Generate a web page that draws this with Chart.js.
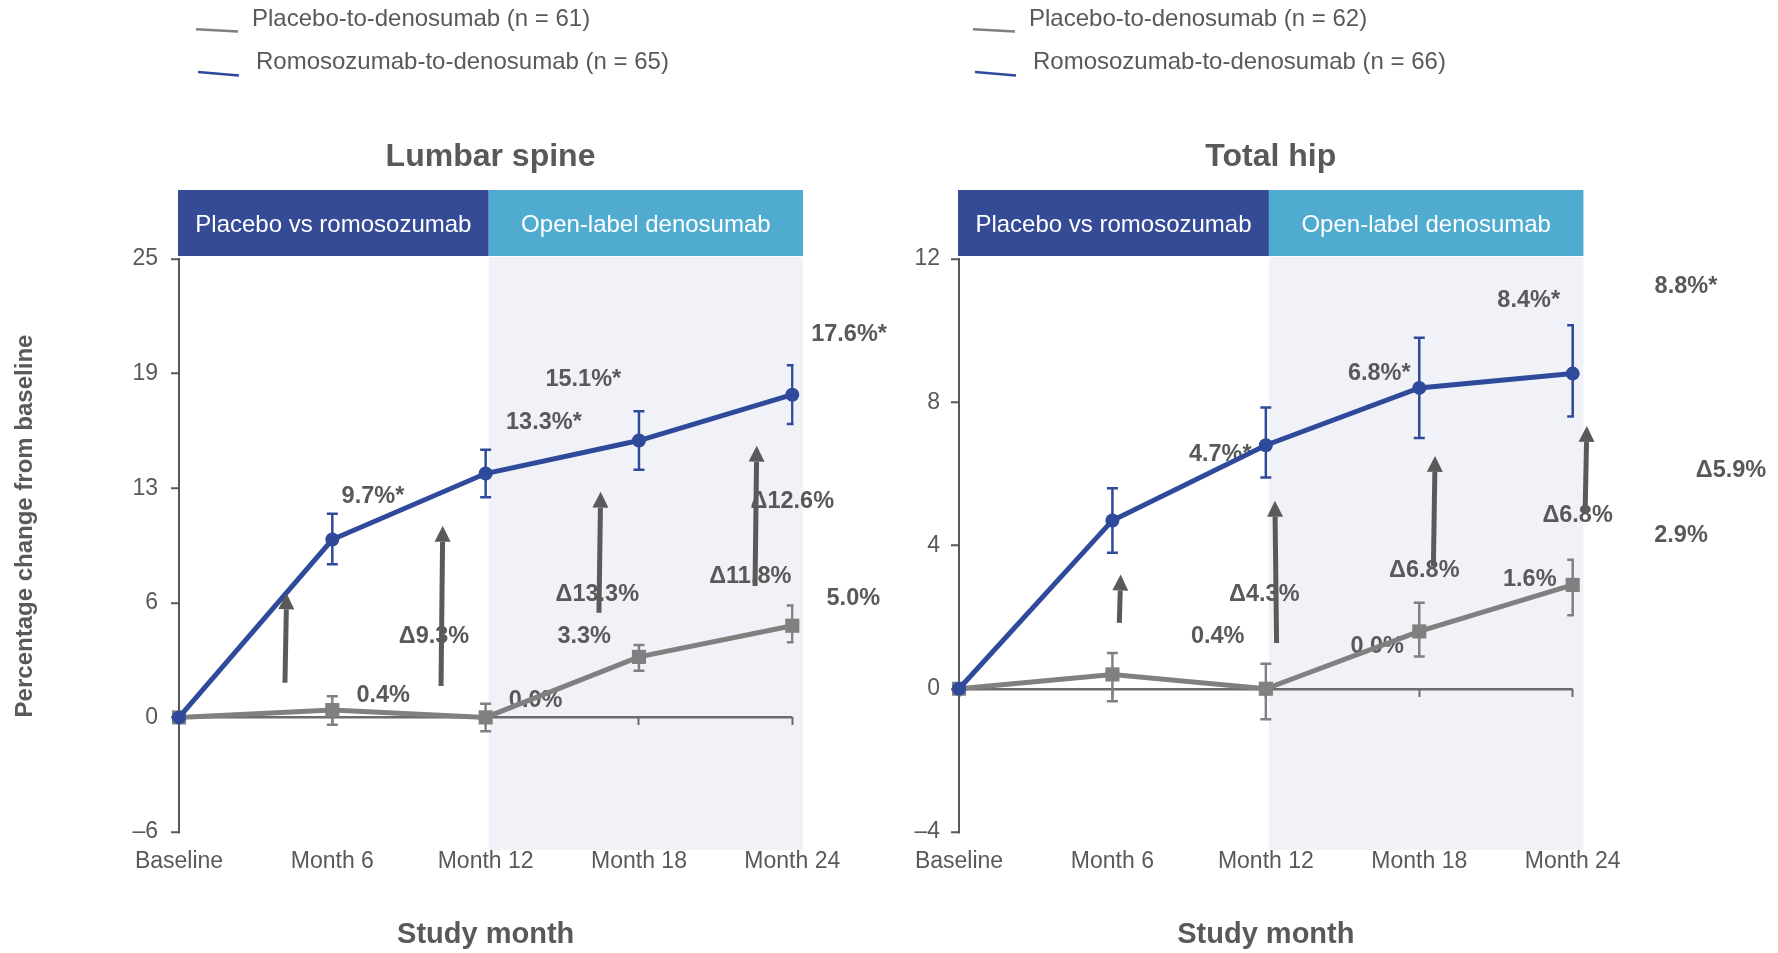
<!DOCTYPE html>
<html>
<head>
<meta charset="utf-8">
<script src="https://cdn.jsdelivr.net/npm/chart.js@4.4.1/dist/chart.umd.min.js"></script>
<style>
  html, body { margin: 0; padding: 0; background: #ffffff; }
  #wrap { position: relative; width: 1778px; height: 953px; overflow: hidden; }
  canvas { position: absolute; top: 0; }
  #spine { left: 0; }
  #hip { left: 889px; }
</style>
</head>
<body>
<div id="wrap">
  <canvas id="spine" width="889" height="953"></canvas>
  <canvas id="hip" width="889" height="953"></canvas>
</div>
<script>
// ---- data -------------------------------------------------------------
const months = ['Baseline', 'Month 6', 'Month 12', 'Month 18', 'Month 24'];
const phaseNames = ['Placebo vs romosozumab', 'Open-label denosumab'];

// Lumbar spine: mean % change from baseline with 95% CI
const spinePlacebo   = [0, 0.4, 0.0, 3.3, 5.0];
const spinePlaceboHi = [null, 1.15, 0.75, 3.95, 6.1];
const spinePlaceboLo = [null, -0.4, -0.75, 2.55, 4.1];
const spineRomo      = [0, 9.7, 13.3, 15.1, 17.6];
const spineRomoHi    = [null, 11.1, 14.6, 16.7, 19.2];
const spineRomoLo    = [null, 8.35, 12.0, 13.5, 16.0];
const spineTickLabels = ['\u20136', '0', '6', '13', '19', '25'];

// Total hip
const hipPlacebo   = [0, 0.4, 0.0, 1.6, 2.9];
const hipPlaceboHi = [null, 1.0, 0.7, 2.4, 3.6];
const hipPlaceboLo = [null, -0.35, -0.85, 0.9, 2.05];
const hipRomo      = [0, 4.7, 6.8, 8.4, 8.8];
const hipRomoHi    = [null, 5.6, 7.85, 9.8, 10.15];
const hipRomoLo    = [null, 3.8, 5.9, 7.0, 7.6];
const hipTickLabels = ['\u20134', '0', '4', '8', '12'];

// ---- annotation placement (category index, axis value) for months 6..24 ----
const spineRomoLabelAt    = [[1.265, 12.07], [2.38, 16.09], [2.637, 18.44], [4.37, 20.89]];
const spinePlaceboLabelAt = [[1.332, 1.17], [2.326, 0.91], [2.643, 4.4], [4.398, 6.5]];
const spineDeltaLabelAt   = [[1.663, 4.4], [2.728, 6.68], [3.726, 7.71], [4.0, 11.76]];
const spineArrows = [[0.691, 1.89, 0.702, 6.77], [1.709, 1.71, 1.72, 10.45],
                     [2.739, 5.71, 2.75, 12.31], [3.757, 7.17, 3.768, 14.82]];

const hipRomoLabelAt    = [[1.703, 6.53], [2.739, 8.79], [3.713, 10.85], [4.738, 11.23]];
const hipPlaceboLabelAt = [[1.686, 1.45], [2.726, 1.17], [3.72, 3.06], [4.706, 4.29]];
const hipDeltaLabelAt   = [[1.99, 2.64], [3.033, 3.3], [4.032, 4.85], [5.032, 6.09]];
const hipArrows = [[1.045, 1.84, 1.054, 3.19], [2.07, 1.28, 2.059, 5.25],
                   [3.092, 3.41, 3.103, 6.5], [4.081, 4.9, 4.092, 7.34]];

// treatment-phase boundaries on the category axis
const phaseSplit = 2.02;
const phaseEnd = 4.07;

// ---- styling ----------------------------------------------------------
const FONT = "'Liberation Sans', Arial, Helvetica, sans-serif";
const TEXT = '#595959';
const BLUE = '#2F4A9A';
const GREY = '#808080';
const ARROW = '#5A5A5A';

function drawArrow(ctx, x1, y1, x2, y2) {
  const ang = Math.atan2(y2 - y1, x2 - x1);
  const hl = 16, hw = 8;
  const bx = x2 - hl * Math.cos(ang), by = y2 - hl * Math.sin(ang);
  ctx.lineWidth = 5;
  ctx.beginPath();
  ctx.moveTo(x1, y1);
  ctx.lineTo(bx, by);
  ctx.stroke();
  ctx.beginPath();
  ctx.moveTo(x2, y2);
  ctx.lineTo(bx + hw * Math.sin(ang), by - hw * Math.cos(ang));
  ctx.lineTo(bx - hw * Math.sin(ang), by + hw * Math.cos(ang));
  ctx.closePath();
  ctx.fill();
}

function makePanel(id, p) {
  const decor = {
    id: 'panelDecor',
    beforeDraw(chart) {
      const { ctx, chartArea: a, scales: { x } } = chart;
      const xs = x.getPixelForValue(phaseSplit);
      const xe = x.getPixelForValue(phaseEnd);
      const x0 = a.left - 1;
      ctx.save();
      // open-label phase shading
      ctx.fillStyle = '#F0F2F8';
      ctx.fillRect(xs, a.top - 2, xe - xs, a.bottom - a.top + 20);
      // phase header bands
      ctx.fillStyle = '#354B95';
      ctx.fillRect(x0, a.top - 69, xs - x0, 66);
      ctx.fillStyle = '#4FACD0';
      ctx.fillRect(xs, a.top - 69, xe - xs, 66);
      ctx.fillStyle = '#ffffff';
      ctx.font = `24px ${FONT}`;
      ctx.textAlign = 'center';
      ctx.textBaseline = 'middle';
      ctx.fillText(phaseNames[0], (x0 + xs) / 2, a.top - 34);
      ctx.fillText(phaseNames[1], (xs + xe) / 2, a.top - 34);
      // panel title
      ctx.fillStyle = TEXT;
      ctx.font = `bold 32px ${FONT}`;
      ctx.fillText(p.title, (x0 + xe) / 2, a.top - 102);
      // legend
      const L = p.legendX;
      const [dsP, dsR] = chart.data.datasets;
      ctx.lineWidth = 2.5;
      ctx.strokeStyle = dsP.borderColor;
      ctx.beginPath(); ctx.moveTo(L, 29.3); ctx.lineTo(L + 42, 31.5); ctx.stroke();
      ctx.strokeStyle = dsR.borderColor;
      ctx.beginPath(); ctx.moveTo(L + 2, 72); ctx.lineTo(L + 43, 75.5); ctx.stroke();
      ctx.font = `24px ${FONT}`;
      ctx.textAlign = 'left';
      ctx.fillStyle = TEXT;
      ctx.fillText(dsP.label, L + 56, 19);
      ctx.fillText(dsR.label, L + 60, 62.5);
      // y-axis title
      if (p.yTitle) {
        ctx.save();
        ctx.translate(25, 526);
        ctx.rotate(-Math.PI / 2);
        ctx.textAlign = 'center';
        ctx.font = `bold 24px ${FONT}`;
        ctx.fillText(p.yTitle, 0, 0);
        ctx.restore();
      }
      ctx.restore();
    },
    beforeDatasetsDraw(chart) {
      const { ctx, chartArea: a, scales: { x, y } } = chart;
      const [dsP, dsR] = chart.data.datasets;
      ctx.save();
      // value labels
      ctx.fillStyle = TEXT;
      ctx.font = `bold 23.5px ${FONT}`;
      ctx.textAlign = 'center';
      ctx.textBaseline = 'middle';
      for (let i = 1; i < months.length; i++) {
        const r = p.romoLabelAt[i - 1], g = p.placeboLabelAt[i - 1], d = p.deltaLabelAt[i - 1];
        ctx.fillText(dsR.data[i].toFixed(1) + '%*', x.getPixelForValue(r[0]), y.getPixelForValue(r[1]));
        ctx.fillText(dsP.data[i].toFixed(1) + '%', x.getPixelForValue(g[0]), y.getPixelForValue(g[1]));
        ctx.fillText('\u0394' + (dsR.data[i] - dsP.data[i]).toFixed(1) + '%',
                     x.getPixelForValue(d[0]), y.getPixelForValue(d[1]));
      }
      // error bars (clipped at the plot's right edge)
      ctx.beginPath();
      ctx.rect(a.left - 10, 0, a.right - a.left + 11.3, chart.height);
      ctx.clip();
      ctx.lineWidth = 2.5;
      chart.data.datasets.forEach(ds => {
        ctx.strokeStyle = ds.borderColor;
        ds.errHi.forEach((hi, i) => {
          if (hi == null) return;
          const px = x.getPixelForValue(i);
          const top = y.getPixelForValue(hi), bot = y.getPixelForValue(ds.errLo[i]);
          ctx.beginPath();
          ctx.moveTo(px, top); ctx.lineTo(px, bot);
          ctx.moveTo(px - 5.5, top); ctx.lineTo(px + 5.5, top);
          ctx.moveTo(px - 5.5, bot); ctx.lineTo(px + 5.5, bot);
          ctx.stroke();
        });
      });
      ctx.restore();
    },
    afterDatasetsDraw(chart) {
      const { ctx, scales: { x, y } } = chart;
      ctx.save();
      ctx.strokeStyle = ARROW;
      ctx.fillStyle = ARROW;
      p.arrows.forEach(([i1, v1, i2, v2]) => {
        drawArrow(ctx, x.getPixelForValue(i1), y.getPixelForValue(v1),
                       x.getPixelForValue(i2), y.getPixelForValue(v2));
      });
      ctx.restore();
    }
  };

  return new Chart(document.getElementById(id), {
    type: 'line',
    data: {
      labels: months,
      datasets: [
        {
          label: p.placeboLabel, data: p.placebo, errHi: p.placeboHi, errLo: p.placeboLo,
          borderColor: GREY, backgroundColor: GREY, borderWidth: 5, tension: 0,
          pointStyle: 'rect', pointRadius: 10, pointBorderWidth: 0, pointBackgroundColor: GREY,
          order: 1, clip: false
        },
        {
          label: p.romoLabel, data: p.romo, errHi: p.romoHi, errLo: p.romoLo,
          borderColor: BLUE, backgroundColor: BLUE, borderWidth: 5, tension: 0,
          pointStyle: 'circle', pointRadius: 7, pointBorderWidth: 0, pointBackgroundColor: BLUE,
          order: 0, clip: false
        }
      ]
    },
    options: {
      responsive: false,
      animation: false,
      events: [],
      layout: { padding: { top: 259, right: p.padRight, bottom: 0, left: 0 } },
      plugins: { legend: { display: false }, tooltip: { enabled: false } },
      scales: {
        x: {
          type: 'category', offset: false,
          grid: { display: false, drawTicks: false },
          border: { display: false },
          ticks: { color: TEXT, font: { family: FONT, size: 23 }, padding: 16, maxRotation: 0, autoSkip: false },
          title: { display: true, text: 'Study month', color: TEXT,
                   font: { family: FONT, size: 29, weight: 'bold' }, padding: { top: 0, bottom: 1 } },
          afterFit: s => { s.height = 121; }
        },
        xzero: {
          type: 'category', axis: 'x', position: { y: 0 }, offset: false,
          grid: { display: true, drawOnChartArea: false, drawTicks: true, tickLength: 8,
                  tickColor: '#6B6B6B', tickWidth: 2 },
          border: { display: false },
          ticks: { display: false }
        },
        y: {
          min: p.yMin, max: p.yMax,
          ticks: { stepSize: p.yStep, callback: (v, i) => p.yTicks[i], color: TEXT,
                   font: { family: FONT, size: 23 }, padding: p.tickPad },
          grid: { color: c => (c.tick && c.tick.value === 0 ? '#6B6B6B' : 'rgba(0,0,0,0)'),
                  lineWidth: 2.5, tickColor: '#595959', tickLength: 8, tickWidth: 2 },
          border: { display: true, color: '#595959', width: 2 },
          afterFit: s => { s.width = p.axisWidth; }
        }
      }
    },
    plugins: [decor]
  });
}

makePanel('spine', {
  title: 'Lumbar spine',
  yTitle: 'Percentage change from baseline',
  placeboLabel: 'Placebo-to-denosumab (n = 61)',
  romoLabel: 'Romosozumab-to-denosumab (n = 65)',
  placebo: spinePlacebo, placeboHi: spinePlaceboHi, placeboLo: spinePlaceboLo,
  romo: spineRomo, romoHi: spineRomoHi, romoLo: spineRomoLo,
  yMin: -6.25, yMax: 25, yStep: 6.25, yTicks: spineTickLabels,
  romoLabelAt: spineRomoLabelAt, placeboLabelAt: spinePlaceboLabelAt, deltaLabelAt: spineDeltaLabelAt,
  arrows: spineArrows,
  axisWidth: 179, padRight: 96.7, tickPad: 13, legendX: 196
});

makePanel('hip', {
  title: 'Total hip',
  yTitle: null,
  placeboLabel: 'Placebo-to-denosumab (n = 62)',
  romoLabel: 'Romosozumab-to-denosumab (n = 66)',
  placebo: hipPlacebo, placeboHi: hipPlaceboHi, placeboLo: hipPlaceboLo,
  romo: hipRomo, romoHi: hipRomoHi, romoLo: hipRomoLo,
  yMin: -4, yMax: 12, yStep: 4, yTicks: hipTickLabels,
  romoLabelAt: hipRomoLabelAt, placeboLabelAt: hipPlaceboLabelAt, deltaLabelAt: hipDeltaLabelAt,
  arrows: hipArrows,
  axisWidth: 70, padRight: 205.3, tickPad: 11, legendX: 84
});
</script>
</body>
</html>
